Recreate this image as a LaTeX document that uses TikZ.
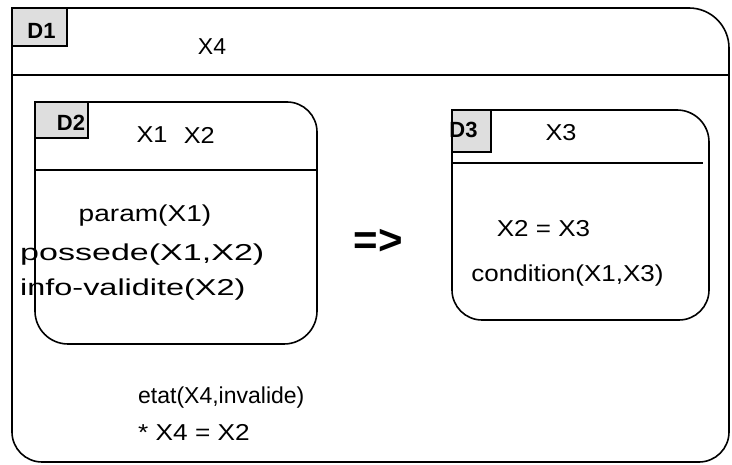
\documentclass[tikz,border=0pt]{standalone}
\usepackage{fontspec}
\setmainfont{Liberation Sans}
\usetikzlibrary {positioning}

\newcommand{\widetxt}[2]{\scalebox{#1}[1]{#2}}

\tikzset{
  boxline/.style = {line width=1.6pt, line join=round},
  tagbox/.style = {draw, line width=1.6pt, fill=black!13},
  tagtext/.style = {font=\fontsize{22}{26}\selectfont\bfseries, inner sep=0pt},
  txt/.style = {font=\fontsize{23}{27}\selectfont, inner sep=0pt}
}

\begin{document}
\begin{tikzpicture}[x=1pt, y=1pt]
        \useasboundingbox (0, 0) rectangle (732, 464);

        % outer box D1
        \draw [boxline] (12, 456) -- (689, 456) arc [start angle=90, end angle=0, radius=40]
          -- (729, 32) arc [start angle=0, end angle=-90, radius=30]
          -- (42, 2) arc [start angle=270, end angle=180, radius=30] -- cycle;
        \draw [boxline] (12, 389) -- (729, 389);
        \draw [tagbox] (12, 456) rectangle (67, 418);
        \node [tagtext] (d1) at (41.5, 433) {D1};
        \node [txt] (x4) at (212, 417) {X4};

        % left box D2
        \draw [boxline] (35, 362) -- (287, 362) arc [start angle=90, end angle=0, radius=30]
          -- (317, 153) arc [start angle=0, end angle=-90, radius=33]
          -- (68, 120) arc [start angle=270, end angle=180, radius=33] -- cycle;
        \draw [boxline] (35, 294) -- (317, 294);
        \draw [tagbox] (35, 362) rectangle (88, 326);
        \node [tagtext] (d2) at (71, 341) {D2};
        \node [txt] (x1) at (152, 329) {\widetxt{1.1}{X1}};
        \node [txt, right=16pt of x1] (x2) {\widetxt{1.1}{X2}};
        \node [txt] (param) at (145, 248) {\widetxt{1.22}{param(X1)}};
        \node [txt, anchor=west] (possede) at (20, 209) {\widetxt{1.48}{possede(X1,X2)}};
        \node [txt, anchor=west] (info) at (20, 174) {\widetxt{1.41}{info-validite(X2)}};

        \node [font=\fontsize{42}{46}\selectfont\bfseries, inner sep=0pt] (impl) at (378, 222) {=>};

        % right box D3
        \draw [boxline] (452, 354) -- (677, 354) arc [start angle=90, end angle=0, radius=32]
          -- (709, 174) arc [start angle=0, end angle=-90, radius=30]
          -- (482, 144) arc [start angle=270, end angle=180, radius=30] -- cycle;
        \draw [boxline] (452, 301) -- (703, 301);
        \draw [tagbox] (452, 354) rectangle (491, 312);
        \node [tagtext] (d3) at (463.5, 334) {D3};
        \node [txt] (x3) at (561, 331) {\widetxt{1.1}{X3}};
        \node [txt] (eq) at (543.5, 235) {\widetxt{1.13}{X2 = X3}};
        \node [txt] (cond) at (567.5, 188) {\widetxt{1.13}{condition(X1,X3)}};

        \node [txt, anchor=west] (etat) at (138, 66) {etat(X4,invalide)};
        \node [txt, anchor=west] (star) at (138, 32) {\widetxt{1.14}{* X4 = X2}};
      \end{tikzpicture}
\end{document}
